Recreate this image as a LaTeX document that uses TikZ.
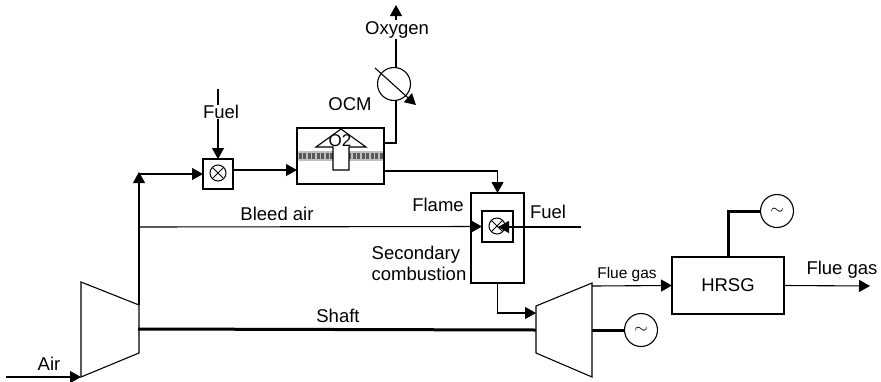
\documentclass[tikz,border=0pt]{standalone}
\usepackage{fontspec}
\setmainfont{Liberation Sans}
\usetikzlibrary{arrows.meta}
\tikzset{
  flow/.style={-{Triangle[length=11pt,width=12pt]}},
  thin line/.style={line width=1.1pt},
  shaft line/.style={line width=3pt},
  unit/.style={draw,line width=1.1pt,inner sep=0pt,outer sep=0pt},
  mixer/.style={draw,circle,line width=1pt,minimum size=16pt,inner sep=0pt,outer sep=0pt,
    path picture={
      \draw[line width=0.9pt] (path picture bounding box.north west) -- (path picture bounding box.south east);
      \draw[line width=0.9pt] (path picture bounding box.north east) -- (path picture bounding box.south west);}},
  generator/.style={draw,circle,line width=1.1pt,minimum size=33pt,inner sep=0pt,outer sep=0pt,font=\LARGE},
  big/.style={font=\fontsize{18.5}{21}\selectfont,inner sep=0.5pt},
  small/.style={font=\fontsize{15.5}{18}\selectfont,inner sep=0.5pt}
}
\begin{document}
\begin{tikzpicture}[x=1pt,y=-1pt]
    \useasboundingbox (0,0) rectangle (881,381);
    %compressor
    \coordinate (airin) at (6,377);
    \coordinate (compin) at (81,377);
    \coordinate (comptop) at (139,305);
    \coordinate (compshaft) at (138,329);
    \draw[thin line] (81,282) -- (139,305) -- (139,353) -- (81,377) -- cycle;
    \draw[thin line,flow] (airin) -- (compin);
    \node[big] (air) at (49,364) {Air};
    %air lines
    \coordinate (riser) at (139,172);
    \coordinate (corner) at (139,174);
    \coordinate (bleed) at (139,227);
    \draw[thin line,flow] (comptop) -- (riser);
    %first mixer
    \node[unit,minimum width=30pt,minimum height=30pt] (mixbox) at (218,174) {};
    \node[mixer] (mix) at (218,173) {};
    \draw[thin line,flow] (corner) -- (mixbox.west);
    \coordinate (fueltop) at (218,89);
    \node[big] (fuela) at (221,112) {Fuel};
    \draw[thin line] (fueltop) -- (fuela.north -| fueltop);
    \draw[thin line,flow] (fuela.south -| fueltop) -- (mixbox.north);
    %OCM
    \node[unit,minimum width=87pt,minimum height=56pt] (ocm) at (340.5,156) {};
    \fill[gray!50] (298,150.5) rectangle (383,161);
    \foreach \x in {300,304.5,...,381}
        \fill[black!65] (\x-1.5,152.5) rectangle (\x+1.5,158.5);
    \draw[thin line,fill=white] (333,170) -- (333,147) -- (316,147) -- (341,129) -- (366,147) -- (349,147) -- (349,170) -- cycle;
    \node[small,font=\fontsize{17}{18}\selectfont] (otwo) at (340,141) {O2};
    \node[big] (ocmlabel) at (350,104) {OCM};
    \coordinate (ocmin) at (297,170);
    \coordinate (mixout) at (233,170);
    \draw[thin line,flow] (mixout) -- (ocmin);
    %oxygen line
    \node[generator] (cooler) at (394,84) {};
    \coordinate (ocmoxy) at (384,143);
    \coordinate (oxybend) at (396,143);
    \coordinate (coolerin) at (396,100.5);
    \coordinate (coolerout) at (396,67.5);
    \coordinate (oxyend) at (396,5);
    \draw[thin line] (ocmoxy) -- (oxybend) -- (coolerin);
    \node[big] (oxygen) at (397,29.5) {Oxygen};
    \draw[thin line] (coolerout) -- (oxygen.south -| coolerout);
    \draw[thin line,flow] (oxygen.north -| coolerout) -- (oxyend);
    \coordinate (slanta) at (375,68);
    \coordinate (slantb) at (416,105);
    \draw[thin line,flow] (slanta) -- (slantb);
    %secondary combustion
    \node[unit,minimum width=53pt,minimum height=90pt] (burner) at (497.5,238) {};
    \node[unit,minimum width=31pt,minimum height=31pt] (flamebox) at (497.5,226.5) {};
    \node[mixer] (flame) at (497,226) {};
    \coordinate (ocmout) at (384,171);
    \coordinate (ocmbend) at (497.5,171);
    \draw[thin line,flow] (ocmout) -- (ocmbend) -- (burner.north);
    \draw[thin line,flow] (bleed) -- (flamebox.west);
    \coordinate (fuelend) at (581,227);
    \coordinate (fueltip) at (498,227);
    \draw[thin line,flow] (fuelend) -- (fueltip);
    \node[big] (bleedlabel) at (277,214) {Bleed air};
    \node[big] (flamelabel) at (438,205) {Flame};
    \node[big] (fuelb) at (548,212) {Fuel};
    \node[big,align=left,anchor=north west] (secondary) at (371,245) {Secondary\\combustion};
    %turbine
    \draw[thin line] (536,306) -- (592,283) -- (592,377) -- (536,353) -- cycle;
    \coordinate (turbin) at (536,313);
    \coordinate (burnbend) at (497.5,313);
    \draw[thin line,flow] (burner.south) -- (burnbend) -- (turbin);
    \coordinate (turbleft) at (536,330);
    \coordinate (turbright) at (592,330);
    \draw[shaft line] (compshaft) -- (turbleft);
    \node[big] (shaft) at (338,316) {Shaft};
    \node[generator] (gena) at (641,330) {$\sim$};
    \draw[shaft line] (turbright) -- (gena.west);
    %HRSG
    \node[unit,minimum width=112pt,minimum height=57pt] (hrsg) at (728,285.5) {};
    \node[big] (hrsglabel) at (728,285) {HRSG};
    \coordinate (turbout) at (592,286);
    \draw[thin line,flow] (turbout) -- (hrsg.west);
    \node[small] (fluea) at (627,274) {Flue gas};
    \node[generator] (genb) at (777,211) {$\sim$};
    \coordinate (hrsgbend) at (728,211);
    \draw[shaft line] (hrsg.north) -- (hrsgbend) -- (genb.west);
    \coordinate (hrsgend) at (870,286);
    \draw[thin line,flow] (hrsg.east) -- (hrsgend);
    \node[big] (flueb) at (842,270) {Flue gas};
\end{tikzpicture}
\end{document}
